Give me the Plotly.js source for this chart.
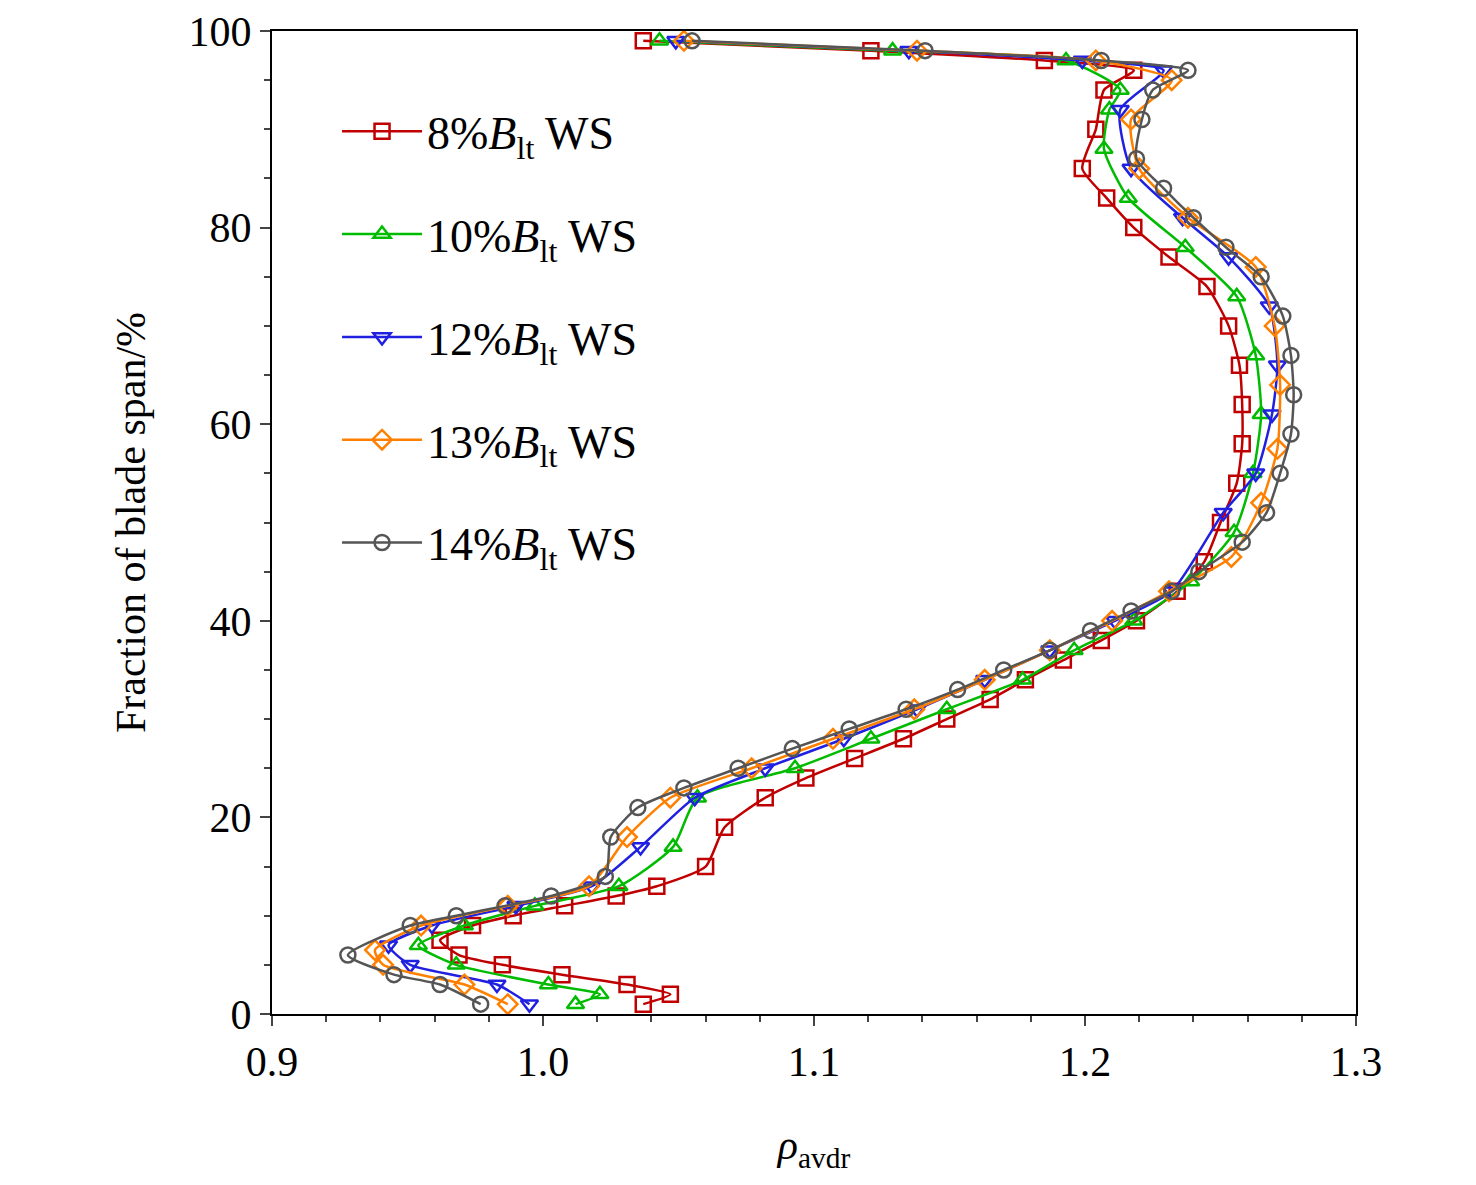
<!DOCTYPE html>
<html><head><script src="https://cdn.plot.ly/plotly-3.0.1.min.js"></script></head>
<body style="margin:0"><div id="c" style="width:1476px;height:1185px"></div>
<script>
const names=['8%<i>B</i><sub>lt</sub> WS','10%<i>B</i><sub>lt</sub> WS','12%<i>B</i><sub>lt</sub> WS','13%<i>B</i><sub>lt</sub> WS','14%<i>B</i><sub>lt</sub> WS'];
const colors=['#c00000','#00bb00','#2020e0','#ff8000','#555555'];
const symbols=['square-open','triangle-up-open','triangle-down-open','diamond-open','circle-open'];
const x8=[1.037,1.047,1.031,1.007,0.985,0.969,0.962,0.974,0.989,1.008,1.027,1.042,1.060,1.067,1.082,1.097,1.115,1.133,1.149,1.165,1.178,1.192,1.206,1.219,1.234,1.244,1.250,1.256,1.258,1.258,1.257,1.253,1.245,1.231,1.218,1.208,1.199,1.204,1.207,1.218,1.185,1.121,1.037];
const y8=[1,2,3,4,5,6,7.5,9,10,11,12,13,15,19,22,24,26,28,30,32,34,36,38,40,43,46,50,54,58,62,66,70,74,77,80,83,86,90,94,96,97,98,99];
const x10=[1.012,1.021,1.002,0.968,0.954,0.971,0.997,1.028,1.048,1.057,1.093,1.121,1.149,1.177,1.196,1.218,1.239,1.255,1.262,1.265,1.263,1.256,1.237,1.216,1.207,1.209,1.213,1.193,1.129,1.043];
const y10=[1,2,3,5,7,9,11,13,17,22,25,28,31,34,37,40,44,49,55,61,67,73,78,83,88,92,94,97,98,99];
const x12=[0.995,0.983,0.951,0.943,0.959,0.990,1.018,1.036,1.056,1.082,1.111,1.138,1.163,1.187,1.211,1.232,1.251,1.263,1.269,1.271,1.268,1.253,1.236,1.217,1.213,1.229,1.199,1.135,1.049];
const y12=[1,3,5,7,9,11,13,17,22,25,28,31,34,37,40,43,51,55,61,66,72,77,81,86,92,96,97,98,99];
const x13=[0.987,0.971,0.941,0.938,0.955,0.987,1.017,1.031,1.047,1.077,1.107,1.137,1.163,1.187,1.210,1.231,1.254,1.265,1.271,1.272,1.270,1.263,1.238,1.220,1.217,1.232,1.204,1.138,1.052];
const y13=[1,3,5,6.5,9,11,13,18,22,25,28,31,34,37,40,43,46.5,52,57.5,64,70,76,81,86,91,95,97,98,99];
const x14=[0.977,0.962,0.945,0.928,0.951,0.968,0.986,1.003,1.023,1.025,1.035,1.052,1.072,1.092,1.113,1.134,1.153,1.170,1.187,1.202,1.217,1.232,1.242,1.258,1.267,1.272,1.276,1.277,1.276,1.273,1.265,1.252,1.240,1.229,1.219,1.221,1.225,1.238,1.206,1.141,1.055];
const y14=[1,3,4,6,9,10,11,12,14,18,21,23,25,27,29,31,33,35,37,39,41,43,45,48,51,55,59,63,67,71,75,78,81,84,87,91,94,96,97,98,99];
const xs=[x8,x10,x12,x13,x14], ys=[y8,y10,y12,y13,y14];
const traces=xs.map((x,i)=>({x:x,y:ys[i],name:names[i],legendgroup:'g'+i,type:'scatter',mode:'lines+markers',
 line:{color:colors[i],width:2.5,shape:'spline',smoothing:0.6},
 marker:{symbol:symbols[i],size:15,color:colors[i],line:{width:2.5,color:colors[i]}}}));
const ff='Liberation Serif, Times New Roman, serif';
const tf={family:ff,size:42,color:'#000'};
Plotly.newPlot('c',traces,{
 width:1476,height:1185,margin:{l:272,r:120,t:31,b:171},
 paper_bgcolor:'#fff',plot_bgcolor:'#fff',showlegend:true,
 font:tf,
 legend:{x:0.06,y:0.935,xanchor:'left',yanchor:'top',font:{family:ff,size:46,color:'#000'},bgcolor:'rgba(0,0,0,0)',tracegroupgap:40,itemwidth:80},
 xaxis:{range:[0.9,1.3],dtick:0.1,tickformat:'.1f',ticks:'outside',ticklen:10,tickwidth:2,showline:true,mirror:true,linewidth:2,linecolor:'#000',showgrid:false,zeroline:false,
  minor:{dtick:0.02,ticks:'outside',ticklen:6,tickwidth:1.5,showgrid:false},
  tickfont:tf,title:{text:'<i>ρ</i><sub>avdr</sub>',font:tf,standoff:45}},
 yaxis:{range:[0,100],dtick:20,ticks:'outside',ticklen:10,tickwidth:2,showline:true,mirror:true,linewidth:2,linecolor:'#000',showgrid:false,zeroline:false,
  minor:{dtick:5,ticks:'outside',ticklen:6,tickwidth:1.5,showgrid:false},
  tickfont:tf,title:{text:'Fraction of blade span/%',font:tf,standoff:30}}
},{displayModeBar:false});
</script></body></html>
